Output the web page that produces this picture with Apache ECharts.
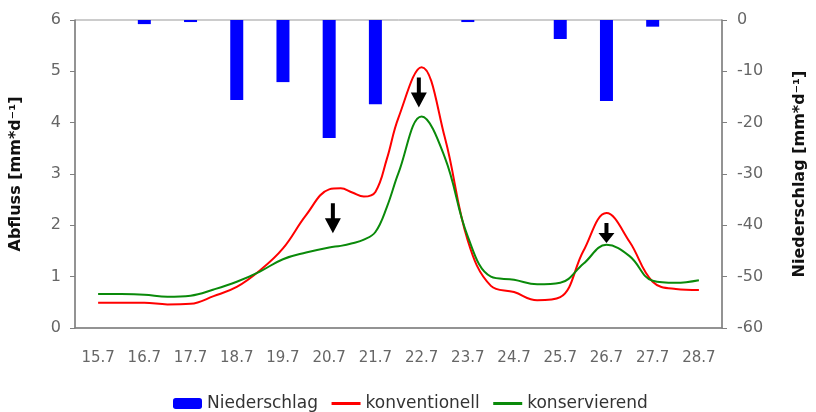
<!DOCTYPE html>
<html>
<head>
<meta charset="utf-8">
<script src="https://cdn.jsdelivr.net/npm/echarts@6/dist/echarts.min.js"></script>
<style>html,body{margin:0;padding:0;background:#fff}#c{width:816px;height:412px}</style>
</head>
<body>
<div id="c"></div>
<script>
// Category labels (days)
const days = ['15.7','16.7','17.7','18.7','19.7','20.7','21.7','22.7','23.7','24.7','25.7','26.7','27.7','28.7'];
// Niederschlag [mm/d], negative (hanging from top)
const niederschlag = [0, -0.8, -0.4, -15.6, -12.1, -23, -16.4, 0, -0.4, 0, -3.7, -15.8, -1.3, 0];
// Sample positions (days after 15.7)
const tDays = [0,0.5,1,1.5,2,2.5,3,3.5,4,4.5,5,5.25,5.5,5.75,6,6.25,6.5,7,7.5,8,8.5,9,9.5,10,10.5,11,11.5,12,12.5,13];
// Abfluss konventionell
const konventionell = [0.49,0.49,0.49,0.46,0.47,0.62,0.80,1.12,1.55,2.20,2.70,2.72,2.64,2.56,2.65,3.30,4.10,5.08,3.72,1.70,0.82,0.70,0.54,0.60,1.50,2.24,1.68,0.90,0.76,0.74];
// Abfluss konservierend
const konservierend = [0.66,0.66,0.65,0.61,0.63,0.75,0.90,1.10,1.34,1.47,1.57,1.60,1.65,1.72,1.87,2.36,3.02,4.12,3.33,1.78,1.00,0.94,0.85,0.88,1.25,1.62,1.40,0.92,0.88,0.93];
// Arrow annotations [day offset, Abfluss value] and arrow lengths
const arrowPos = [[5.08, 2.14], [6.94, 4.59], [11.0, 1.85]];
const arrowLen = [30, 30, 20];

const FONT = 'DejaVu Sans';
const chart = echarts.init(document.getElementById('c'), null, {renderer: 'canvas'});
const pairs = (ys) => tDays.map((t, i) => [t, ys[i]]);
const arrowPath = 'path://M6,0 L10,0 L10,14 L16,14 L8,28 L0,14 L6,14 Z';

chart.setOption({
  animation: false,
  backgroundColor: '#fff',
  textStyle: {fontFamily: FONT},
  grid: {left: 72, right: 83, top: 20, bottom: 84, show: true, borderColor: '#999', borderWidth: 1},
  legend: {
    left: 168, top: 390, itemWidth: 29, itemHeight: 11, itemGap: 12,
    textStyle: {fontFamily: FONT, fontSize: 17, color: '#333'},
    data: [
      {name: 'Niederschlag'},
      {name: 'konventionell', itemStyle: {opacity: 0}, lineStyle: {width: 3}},
      {name: 'konservierend', itemStyle: {opacity: 0}, lineStyle: {width: 3}}
    ]
  },
  xAxis: [
    {
      type: 'category', data: days, position: 'bottom',
      axisLine: {lineStyle: {color: '#808080', width: 1.5}},
      axisTick: {length: 5, lineStyle: {color: '#808080'}},
      axisLabel: {fontFamily: FONT, fontSize: 15, color: '#666', margin: 23},
      splitLine: {show: false}
    },
    {type: 'value', min: -0.5, max: 13.5, show: false}
  ],
  yAxis: [
    {
      type: 'value', min: 0, max: 6, interval: 1, position: 'left',
      name: 'Abfluss [mm*d⁻¹]', nameLocation: 'middle', nameGap: 51, nameRotate: 90,
      nameTextStyle: {fontFamily: FONT, fontSize: 16, fontWeight: 'bold', color: '#111'},
      axisLine: {show: true, onZero: false, lineStyle: {color: '#808080', width: 1.5}},
      axisTick: {show: true, length: 5, lineStyle: {color: '#808080'}},
      axisLabel: {fontFamily: FONT, fontSize: 16, color: '#666', margin: 14},
      splitLine: {show: false}
    },
    {
      type: 'value', min: -60, max: 0, interval: 10, position: 'right',
      name: 'Niederschlag [mm*d⁻¹]', nameLocation: 'middle', nameGap: 70, nameRotate: 90,
      nameTextStyle: {fontFamily: FONT, fontSize: 16, fontWeight: 'bold', color: '#111'},
      axisLine: {show: true, onZero: false, lineStyle: {color: '#808080', width: 1.5}},
      axisTick: {show: true, length: 5, lineStyle: {color: '#808080'}},
      axisLabel: {fontFamily: FONT, fontSize: 16, color: '#666', margin: 15},
      splitLine: {show: false}
    }
  ],
  series: [
    {
      name: 'Niederschlag', type: 'bar', xAxisIndex: 0, yAxisIndex: 1,
      data: niederschlag, barWidth: 13,
      itemStyle: {color: '#0000ff'}
    },
    {
      name: 'konventionell', type: 'line', xAxisIndex: 1, yAxisIndex: 0,
      data: pairs(konventionell), smooth: 0.4, symbol: 'none',
      lineStyle: {color: '#ff0000', width: 2}, itemStyle: {color: '#ff0000'},
      markPoint: {
        symbol: arrowPath,
        itemStyle: {color: '#000'},
        label: {show: false},
        data: arrowPos.map((p, i) => ({coord: p, symbolSize: [16, arrowLen[i]]}))
      }
    },
    {
      name: 'konservierend', type: 'line', xAxisIndex: 1, yAxisIndex: 0,
      data: pairs(konservierend), smooth: 0.4, symbol: 'none',
      lineStyle: {color: '#0a8a0a', width: 2}, itemStyle: {color: '#0a8a0a'}
    }
  ]
});
</script>
</body>
</html>
